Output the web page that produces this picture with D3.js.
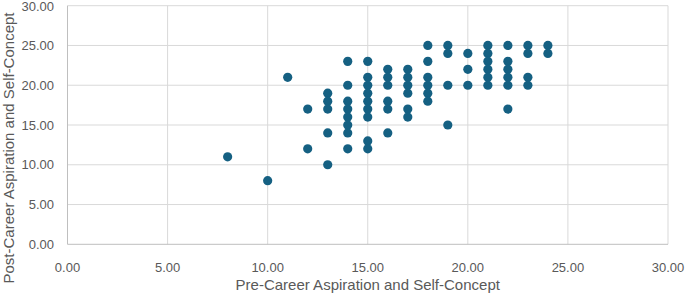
<!DOCTYPE html>
<html>
<head>
<meta charset="utf-8">
<script src="https://cdn.jsdelivr.net/npm/d3@7"></script>
<style>
  body { margin: 0; background: #fff; }
  svg text { font-family: "Liberation Sans", Arial, sans-serif; fill: #595959; }
</style>
</head>
<body>
<svg width="685" height="293"></svg>
<script>
// pre score -> list of post scores
const preScores = [8, 10, 11, 12, 13, 14, 15, 16, 17, 18, 19, 20, 21, 22, 23, 24];
const postScores = [
  [11],
  [8],
  [21],
  [17, 12],
  [19, 18, 17, 14, 10],
  [23, 20, 18, 17, 16, 15, 14, 12],
  [23, 21, 20, 19, 18, 17, 16, 13, 12],
  [22, 21, 20, 18, 17, 14],
  [22, 21, 20, 19, 17, 16],
  [25, 23, 21, 20, 19, 18],
  [25, 24, 20, 15],
  [24, 22, 20],
  [25, 24, 23, 22, 21, 20],
  [25, 23, 22, 21, 20, 17],
  [25, 24, 21, 20],
  [25, 24]
];
const xTicks = [0, 5, 10, 15, 20, 25, 30];
const yTicks = [0, 5, 10, 15, 20, 25, 30];
const xTitle = "Pre-Career Aspiration and Self-Concept";
const yTitle = "Post-Career Aspiration and Self-Concept";

const points = [];
preScores.forEach(function(p, i) {
  postScores[i].forEach(function(v) { points.push({x: p, y: v}); });
});

const svg = d3.select("svg");
const plotL = 67.5, plotR = 668, plotT = 5.7, plotB = 244.3;

const x = d3.scaleLinear().domain([0, 30]).range([plotL, plotR]);
const y = d3.scaleLinear().domain([0, 30]).range([plotB, plotT]);

// gridlines
svg.append("g").selectAll("line")
  .data(xTicks.filter(d => d > 0))
  .enter().append("line")
  .attr("x1", d => x(d)).attr("x2", d => x(d))
  .attr("y1", plotT).attr("y2", plotB)
  .attr("stroke", "#d9d9d9").attr("stroke-width", 1);

svg.append("g").selectAll("line")
  .data(yTicks.filter(d => d > 0))
  .enter().append("line")
  .attr("x1", plotL).attr("x2", plotR)
  .attr("y1", d => y(d)).attr("y2", d => y(d))
  .attr("stroke", "#d9d9d9").attr("stroke-width", 1);

// axis lines
svg.append("line")
  .attr("x1", plotL).attr("x2", plotR).attr("y1", plotB).attr("y2", plotB)
  .attr("stroke", "#bfbfbf");
svg.append("line")
  .attr("x1", plotL).attr("x2", plotL).attr("y1", plotT).attr("y2", plotB)
  .attr("stroke", "#bfbfbf");

// tick labels
svg.append("g").selectAll("text")
  .data(xTicks)
  .enter().append("text")
  .attr("x", d => x(d)).attr("y", 272)
  .attr("text-anchor", "middle")
  .style("font-size", "13px")
  .text(d => d.toFixed(2));

svg.append("g").selectAll("text")
  .data(yTicks)
  .enter().append("text")
  .attr("x", 54).attr("y", d => Math.max(y(d) + 4.5, 11))
  .attr("text-anchor", "end")
  .style("font-size", "13px")
  .text(d => d.toFixed(2));

// axis titles
svg.append("text")
  .attr("x", x(15)).attr("y", 290)
  .attr("text-anchor", "middle")
  .style("font-size", "15px")
  .text(xTitle);

svg.append("text")
  .attr("transform", "translate(14,148) rotate(-90)")
  .attr("text-anchor", "middle")
  .style("font-size", "15px")
  .text(yTitle);

// points
svg.append("g").selectAll("circle")
  .data(points)
  .enter().append("circle")
  .attr("cx", d => x(d.x))
  .attr("cy", d => y(d.y))
  .attr("r", 4.6)
  .attr("fill", "#156082");
</script>
</body>
</html>
